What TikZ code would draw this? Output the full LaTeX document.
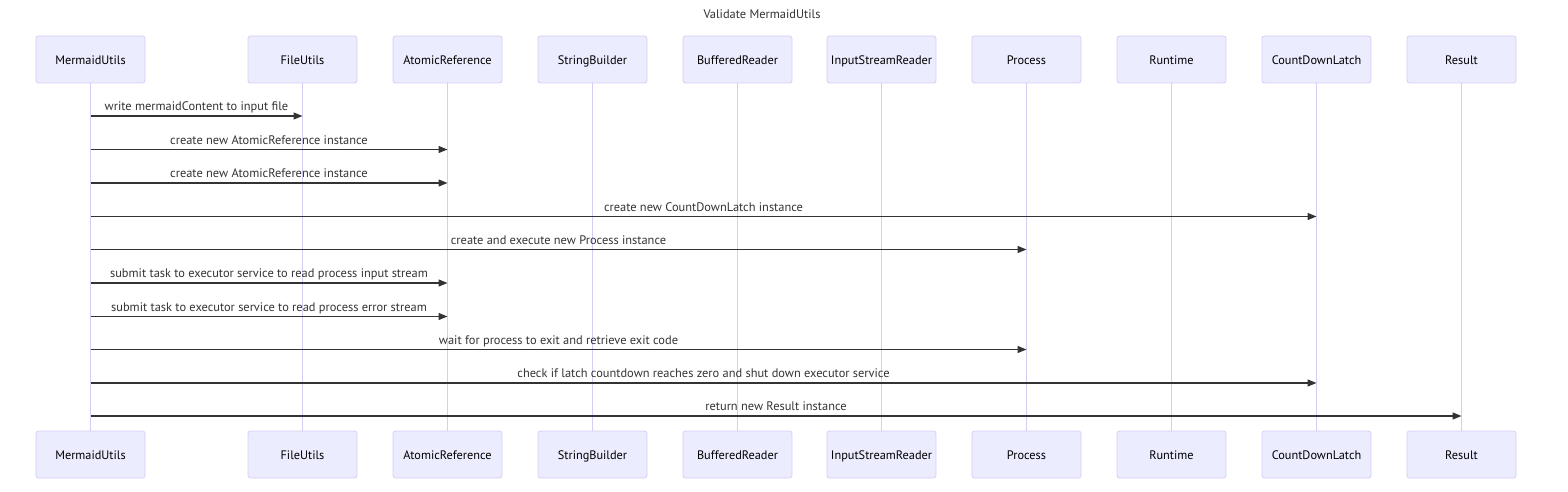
\documentclass[tikz,border=0pt]{standalone}
\usepackage{fontspec}
\setmainfont{PT Sans}
\usetikzlibrary{arrows.meta}
\definecolor{actfill}{HTML}{ECECFF}
\definecolor{actline}{HTML}{D6CCF5}
\definecolor{msgcol}{HTML}{333333}
\tikzset{
  actor/.style={draw=actline, fill=actfill, line width=0.8pt, rounded corners=2.5pt,
    minimum width=109pt, minimum height=47pt, inner sep=0pt, text height=9.5pt, text depth=0pt,
    font=\fontsize{12.3}{14}\selectfont, text=black},
  lifeline/.style={draw=actline, line width=1pt},
  msg/.style={draw=msgcol, line width=1.3pt, -{Triangle[length=9pt,width=7pt]}},
  msglabel/.style={font=\fontsize{12.4}{14}\selectfont, text=msgcol, inner sep=0pt, anchor=base},
}
\begin{document}
\begin{tikzpicture}[x=1pt,y=-1pt]
\useasboundingbox (0,0) rectangle (1568,492);
\node[font=\fontsize{12.4}{14}\selectfont, text=msgcol, anchor=base] (title) at (762,18.5) {Validate MermaidUtils};
\foreach \n/\x/\t in {mu/90.5/MermaidUtils, fu/302.5/FileUtils, ar/447.5/AtomicReference, sb/592.5/StringBuilder, br/737.5/BufferedReader, isr/881.5/InputStreamReader, pr/1026.5/Process, rt/1171.5/Runtime, cdl/1316.5/CountDownLatch, res/1461.5/Result}{
  \node[actor] (\n top) at (\x,59.5) {\t};
  \node[actor] (\n bot) at (\x,454.5) {\t};
  \draw[lifeline] (\n top.south) -- (\n bot.north);
}
\foreach \i/\to/\y/\t in {
  1/fu/116/{write mermaidContent to input file},
  2/ar/149.5/{create new AtomicReference instance},
  3/ar/183/{create new AtomicReference instance},
  4/cdl/216.5/{create new CountDownLatch instance},
  5/pr/249.5/{create and execute new Process instance},
  6/ar/283/{submit task to executor service to read process input stream},
  7/ar/316.5/{submit task to executor service to read process error stream},
  8/pr/349.5/{wait for process to exit and retrieve exit code},
  9/cdl/383/{check if latch countdown reaches zero and shut down executor service},
  10/res/416/{return new Result instance}}{
  \coordinate (s\i) at (mutop.center |- 0,\y);
  \coordinate (e\i) at (\to top.center |- 0,\y);
  \draw[msg] (s\i) -- (e\i);
  \path (s\i) -- node[msglabel, yshift=5.5pt] (l\i) {\t} (e\i);
}
\end{tikzpicture}
\end{document}
